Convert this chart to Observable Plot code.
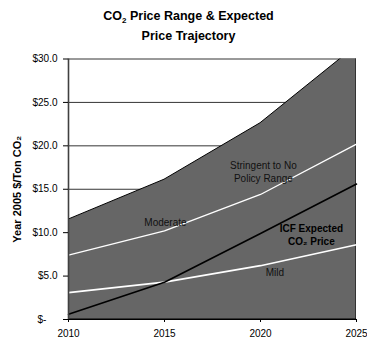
<!DOCTYPE html>
<html>
<head>
<meta charset="utf-8">
<script src="https://cdn.jsdelivr.net/npm/d3@7"></script>
<script src="https://cdn.jsdelivr.net/npm/@observablehq/plot@0.6"></script>
<style>
  body { margin: 0; background: #fff; font-family: "Liberation Sans", Arial, sans-serif; }
  #title {
    width: 367px; height: 45px; box-sizing: border-box;
    padding-top: 7px; padding-left: 10px;
    text-align: center; font-weight: bold; font-size: 12.5px; line-height: 19px; color: #000;
  }
  #title sub { font-size: 8px; vertical-align: baseline; position: relative; top: 3px; }
  #chart svg { display: block; }
</style>
</head>
<body>
<div id="title">CO<sub>2</sub> Price Range &amp; Expected<br>Price Trajectory</div>
<div id="chart"></div>
<script>
// Carbon price scenarios, 2005 dollars per ton of CO2
const years = [2010, 2015, 2020, 2025];
const upperBound = [11.5, 16.1, 22.6, 31.5];   // top of the stringent-to-no-policy range
const moderate = [7.4, 10.2, 14.4, 20.2];
const icfExpected = [0.6, 4.3, 9.9, 15.6];
const mild = [3.1, 4.3, 6.2, 8.6];
const yTicks = [0, 5, 10, 15, 20, 25, 30];

// In-chart annotations: text, year, price
const noteText = ["Moderate", "Stringent to No\nPolicy Range", "Mild", "ICF Expected\nCO\u2082 Price"];
const noteYear = [2015.05, 2020.15, 2020.75, 2022.65];
const notePrice = [11.3, 17.1, 5.55, 9.85];
const noteBold = [false, false, false, true];

const rows = years.map((year, i) => ({
  year, upper: upperBound[i], moderate: moderate[i], icf: icfExpected[i], mild: mild[i]
}));
const notes = noteText.map((text, i) => ({ text, year: noteYear[i], price: notePrice[i], bold: noteBold[i] }));

const money = d => d === 0 ? "$-\u2007\u2007" : "$" + d.toFixed(1);

const chart = Plot.plot({
  width: 367,
  height: 296,
  marginTop: 13.5,
  marginBottom: 22,
  marginLeft: 68,
  marginRight: 11,
  style: { fontFamily: "'Liberation Sans', Arial, sans-serif", fontSize: "10px", color: "#000", background: "#fff" },
  x: { domain: [2010, 2025] },
  y: { domain: [0, 30] },
  marks: [
    Plot.gridY(yTicks.filter(d => d > 0), { stroke: "#000", strokeOpacity: 1, strokeWidth: 0.8 }),
    Plot.areaY(rows, { x: "year", y1: 0, y2: "upper", fill: "#666666", stroke: "#000", strokeWidth: 1, clip: true }),
    Plot.line(rows, { x: "year", y: "moderate", stroke: "#fff", strokeWidth: 1.3 }),
    Plot.line(rows, { x: "year", y: "mild", stroke: "#fff", strokeWidth: 1.6 }),
    Plot.line(rows, { x: "year", y: "icf", stroke: "#000", strokeWidth: 1.6 }),
    Plot.ruleX([2010], { stroke: "#404040", strokeWidth: 1.6 }),
    Plot.ruleY([0], { stroke: "#000", strokeWidth: 1.2 }),
    Plot.axisX(years, { tickFormat: d => String(d), tickSize: 3, tickPadding: 7, label: null, stroke: "#000" }),
    Plot.axisY(yTicks, { tickFormat: money, tickSize: 5, tickPadding: 6, label: null, stroke: "#000" }),
    // vertical axis title, centred on the $15 level
    Plot.text(["Year 2005 $/Ton CO\u2082"], {
      x: [2010], y: [15], dx: -51, rotate: -90, fontWeight: "bold", fontSize: 11, fill: "#000"
    }),
    Plot.text(notes.filter(d => !d.bold), {
      x: "year", y: "price", text: "text", fill: "#111", fontSize: 10, lineHeight: 1.34
    }),
    Plot.text(notes.filter(d => d.bold), {
      x: "year", y: "price", text: "text", fill: "#000", fontSize: 10, fontWeight: "bold", lineHeight: 1.34
    })
  ]
});
document.getElementById("chart").appendChild(chart);
</script>
</body>
</html>
